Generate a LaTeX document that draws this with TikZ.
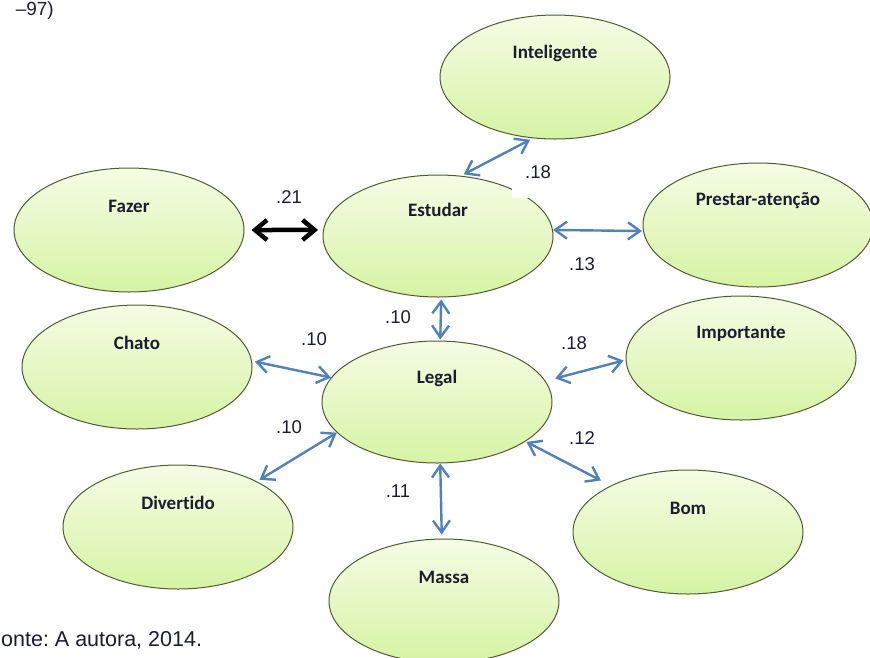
\documentclass[tikz,border=0pt]{standalone}
\usepackage{fontspec}
\setmainfont{Liberation Sans}
\newfontfamily\conceptfont[Ligatures=NoCommon]{Carlito}
\usetikzlibrary{shapes.geometric,arrows.meta}
\definecolor{ellfillA}{RGB}{245,252,228}
\definecolor{ellfillB}{RGB}{214,243,164}
\definecolor{ellline}{RGB}{78,92,50}
\definecolor{arrblue}{RGB}{79,129,189}
\definecolor{txtdark}{RGB}{28,28,48}
\frenchspacing
\begin{document}
\begin{tikzpicture}[x=1pt,y=-1pt,
  concept/.style={ellipse, draw=ellline, line width=1pt, top color=ellfillA, bottom color=ellfillB,
    minimum width=230pt, minimum height=124pt, inner sep=0pt},
  ctext/.style={font=\conceptfont\bfseries\fontsize{19}{19}\selectfont, text=txtdark, inner sep=0pt, yshift=24pt},
  wlabel/.style={font=\fontsize{18.5}{18.5}\selectfont, text=txtdark, inner sep=0pt},
  link/.style={draw=arrblue, line width=2.4pt, line join=round,
    {Straight Barb[length=12pt,width=17pt]}-{Straight Barb[length=12pt,width=17pt]}},
  strong/.style={draw=black, line width=4.5pt, line join=round,
    {Straight Barb[length=12pt,width=20pt]}-{Straight Barb[length=12pt,width=20pt]}}
]
\useasboundingbox (0,0) rectangle (870,657);

% concepts
\node[concept, label={[ctext]center:Inteligente}] (inteligente) at (555,77) {};
\node[concept, label={[ctext]center:Fazer}] (fazer) at (129,230) {};
\node[concept, minimum height=122pt, label={[ctext,yshift=2pt]center:Estudar}] (estudar) at (438,236) {};
\node[concept, label={[ctext]center:Prestar-atenção}] (prestar) at (758,225) {};
\node[concept, label={[ctext]center:Chato}] (chato) at (137,367) {};
\node[concept, minimum height=122pt, label={[ctext]center:Legal}] (legal) at (437,402) {};
\node[concept, label={[ctext]center:Importante}] (importante) at (741,358) {};
\node[concept, label={[ctext]center:Divertido}] (divertido) at (178,527) {};
\node[concept, label={[ctext]center:Bom}] (bom) at (688,532) {};
\node[concept, label={[ctext]center:Massa}] (massa) at (444,601) {};

% white box behind the .18 label
\fill[white] (512,158) rectangle (566,198);

% connectors
\draw[link, shorten <=3pt, shorten >=3pt] (estudar.69) -- (inteligente.-110);
\draw[strong, shorten <=7pt, shorten >=5pt] (fazer.0) -- (estudar.177);
\draw[link, shorten >=1pt] (estudar.3) -- (prestar.183);
\draw[link, shorten <=2pt, shorten >=1pt] (estudar.-87) -- (legal.87);
\draw[link, shorten <=3pt] (chato.3.5) -- (legal.167);
\draw[link, shorten <=10pt, shorten >=2pt] (legal.11) -- (importante.181);
\draw[link, shorten >=3pt] (legal.197) -- (divertido.30);
\draw[link, shorten <=1pt, shorten >=11pt] (legal.-24) -- (bom.149);
\draw[link, shorten >=4pt] (legal.-87) -- (massa.92);

% weights
\node[wlabel] (w1) at (538,172) {.18};
\node[wlabel] (w2) at (289,197) {.21};
\node[wlabel] (w3) at (582,264) {.13};
\node[wlabel] (w4) at (398,317) {.10};
\node[wlabel] (w5) at (314,339) {.10};
\node[wlabel] (w6) at (574,343) {.18};
\node[wlabel] (w7) at (289,427) {.10};
\node[wlabel] (w8) at (582,438) {.12};
\node[wlabel] (w9) at (398,491) {.11};

% texts at the edges
\node[font=\fontsize{19}{19}\selectfont, text=txtdark, inner sep=0pt, anchor=base east] (top) at (54,15) {–97)};
\node[font=\fontsize{21.5}{21.5}\selectfont, text=txtdark, inner sep=0pt, anchor=base west] (source) at (1,646) {onte: A autora, 2014.};
\end{tikzpicture}
\end{document}
